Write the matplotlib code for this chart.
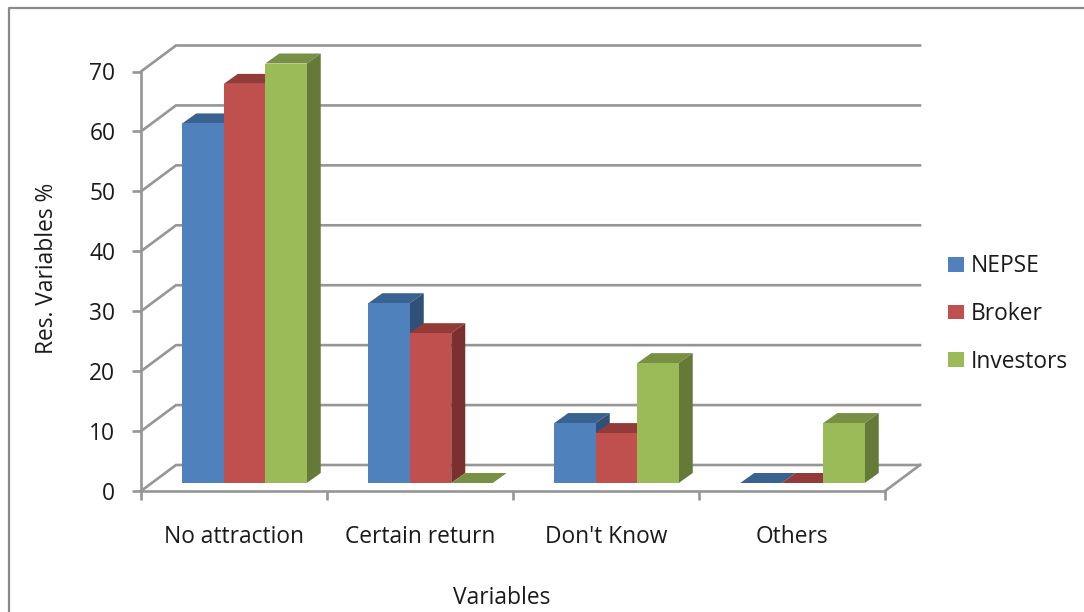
import matplotlib.pyplot as plt
from matplotlib.lines import Line2D

plt.rcParams['font.family'] = ['Open Sans', 'DejaVu Sans']

categories = ["No attraction", "Certain return", "Don't Know", "Others"]
nepse = [60, 30, 10, 0]
broker = [66.6, 25, 8.33, 0]
investors = [70, 0, 20, 10]
y_ticks = [0, 10, 20, 30, 40, 50, 60, 70]

W, H = 1084, 612
# front plane of the chart in pixels
LEFT, RIGHT, BOTTOM, TOP = 141, 885, 491, 71.5
FS = 16.4

fig = plt.figure(figsize=(W / 100, H / 100), dpi=100)
ax = fig.add_axes([LEFT / W, 1 - BOTTOM / H, (RIGHT - LEFT) / W, (BOTTOM - TOP) / H])
ax.set_xlim(0, len(categories))
ax.set_ylim(0, 70)

# pixel sizes turned into data units
px_x = len(categories) / (RIGHT - LEFT)
px_y = 70 / (BOTTOM - TOP)

GREY = "#969696"
LW = 1.9
wall_dx, wall_dy = 35 * px_x, 26 * px_y
bar_dx, bar_dy = 14 * px_x, 10 * px_y
shift_x, shift_y = 10.5 * px_x, 8 * px_y
bar_w = 41.5 * px_x


def shade(ax, x, v, colors):
    # one bar: top and side faces, then the front
    x0, x1 = x, x + bar_w
    y0, y1 = shift_y, v + shift_y
    ax.fill([x0, x1, x1 + bar_dx, x0 + bar_dx], [y1, y1, y1 + bar_dy, y1 + bar_dy],
            color=colors[1], lw=0, clip_on=False, zorder=3)
    if v > 0:
        ax.fill([x1, x1 + bar_dx, x1 + bar_dx, x1], [y0, y0 + bar_dy, y1 + bar_dy, y1],
                color=colors[2], lw=0, clip_on=False, zorder=3)
    return ax.bar(x0, v, bar_w, bottom=y0, align="edge", color=colors[0], lw=0,
                  clip_on=False, zorder=3)


# back wall gridlines and the slanted wall and floor edges
for t in y_ticks:
    ax.plot([0, wall_dx, len(categories) + wall_dx], [t, t + wall_dy, t + wall_dy],
            color=GREY, lw=LW, clip_on=False, zorder=1, solid_joinstyle="miter")
ax.plot([len(categories), len(categories) + wall_dx], [0, wall_dy],
        color=GREY, lw=LW, clip_on=False, zorder=1)

series = [("NEPSE", nepse, ("#4F81BD", "#3A6291", "#305078")),
          ("Broker", broker, ("#C0504D", "#933B39", "#7A302E")),
          ("Investors", investors, ("#9BBB59", "#779044", "#657A38"))]

handles = []
for s, (name, vals, colors) in enumerate(series):
    for i, v in enumerate(vals):
        x = i + 0.5 - 1.5 * bar_w + s * bar_w + shift_x
        b = shade(ax, x, v, colors)
    handles.append(b[0])

for side in ["top", "right"]:
    ax.spines[side].set_visible(False)
for side in ["left", "bottom"]:
    ax.spines[side].set_color(GREY)
    ax.spines[side].set_linewidth(LW)

ax.set_yticks(y_ticks)
ax.set_xticks(range(len(categories) + 1))
ax.set_xticklabels([])
ax.set_xticks([i + 0.5 for i in range(len(categories))], minor=True)
ax.set_xticklabels(categories, minor=True)
ax.tick_params(axis="x", which="major", length=6.5, width=LW, color=GREY)
ax.tick_params(axis="x", which="minor", length=0, pad=24.5, labelsize=FS, labelcolor="#1a1a1a")
ax.tick_params(axis="y", length=6.5, width=LW, color=GREY, pad=12, labelsize=FS, labelcolor="#1a1a1a")

fig.text(502 / W, 1 - 598 / H, "Variables", ha="center", va="center", fontsize=FS, color="#1a1a1a")
fig.text(47 / W, 1 - 268 / H, "Res. Variables %", ha="center", va="center", rotation=90,
         fontsize=FS, color="#1a1a1a")

fig.legend(handles, [s[0] for s in series], loc="center left",
           bbox_to_anchor=(948 / W, 1 - 314 / H), frameon=False, fontsize=FS,
           handlelength=0.7, handleheight=0.6, handletextpad=0.32, labelspacing=1.04,
           borderpad=0, borderaxespad=0, labelcolor="#1a1a1a")

# outer chart frame, open on the right and cut off at the bottom of the picture
fig.add_artist(Line2D([8.5 / W, 8.5 / W, 1], [0, 1 - 8 / H, 1 - 8 / H], color="#8a8a8a", lw=1.6))

fig.savefig("out.png", dpi=100)
